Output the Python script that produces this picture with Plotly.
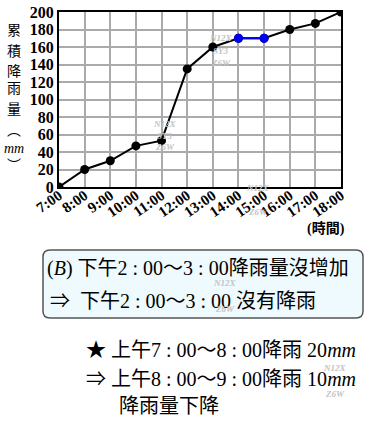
import plotly.graph_objects as go

hours = ["7:00", "8:00", "9:00", "10:00", "11:00", "12:00", "13:00", "14:00",
         "15:00", "16:00", "17:00", "18:00"]
rain = [0, 20, 30, 47, 53, 135, 160, 170, 170, 180, 187, 200]
y_ticks = [0, 20, 40, 60, 80, 100, 120, 140, 160, 180, 200]
y_title_chars = ["累", "積", "降", "雨", "量", "︵", "<i>mm</i>", "︶"]

# plot area in pixels
L, R, T, B = 59, 341, 12, 187
W, H = 365, 427
def px(x):
    return (x - L) / (R - L)
def py(y):
    return (B - y) / (B - T)

xi = list(range(len(hours)))
fig = go.Figure()
fig.add_trace(go.Scatter(x=xi, y=rain, mode="lines+markers",
                         line=dict(color="black", width=2),
                         marker=dict(color="black", size=9), showlegend=False))
fig.add_trace(go.Scatter(x=xi[7:9], y=rain[7:9], mode="lines+markers",
                         line=dict(color="#0000ee", width=2),
                         marker=dict(color="#0000ee", size=9), showlegend=False))

serif = "Liberation Serif, Noto Sans CJK TC"
fig.update_xaxes(range=[0, 11], tickvals=xi, ticktext=hours, tickangle=-35,
                 ticklabelstandoff=-8,
                 showgrid=True, gridcolor="#aaaaaa", gridwidth=1.5,
                 showline=True, linecolor="black", linewidth=2, mirror=True,
                 zeroline=False, ticks="", automargin=False,
                 tickfont=dict(family=serif, size=15, color="black", weight="bold"))
fig.update_yaxes(range=[0, 200], tickvals=y_ticks,
                 showgrid=True, gridcolor="#aaaaaa", gridwidth=1.5,
                 showline=True, linecolor="black", linewidth=2, mirror=True,
                 zeroline=False, ticks="", automargin=False,
                 tickfont=dict(family=serif, size=16, color="black", weight="bold"))

ann = []
ys = [30, 51, 71, 89, 109, 130, 148, 165]
for ch, yy in zip(y_title_chars, ys):
    ann.append(dict(x=px(14), y=py(yy), xref="paper", yref="paper", text=ch,
                    xanchor="center", yanchor="middle",
                    showarrow=False, font=dict(family=serif, size=14, color="black")))
ann.append(dict(x=px(326), y=py(228), xref="paper", yref="paper", text="<b>(時間)</b>",
                xanchor="center", yanchor="middle",
                showarrow=False, font=dict(family=serif, size=14, color="black")))

# text lines
lines = [
    (45, 268, "(<i>B</i>) 下午2 : 00～3 : 00降雨量沒增加"),
    (48, 301, "⇒  下午2 : 00～3 : 00 沒有降雨"),
    (84, 350, "★ 上午7 : 00～8 : 00降雨 20<i>mm</i>"),
    (84, 379, "⇒ 上午8 : 00～9 : 00降雨 10<i>mm</i>"),
    (117, 406, "降雨量下降"),
]
for x0, y0, t in lines:
    ann.append(dict(x=px(x0), y=py(y0), xref="paper", yref="paper", text=t,
                    xanchor="left", yanchor="middle", showarrow=False,
                    font=dict(family=serif, size=20, color="black")))

# faint watermarks
wm = [(165, 124, "N12X"), (165, 136, "SY3"), (165, 147, "Z6W"),
      (221, 38, "N12X"), (221, 51, "SY3"), (221, 63, "Z6W"),
      (258, 188, "N12X"), (258, 212, "Z6W"),
      (225, 283, "N12X"), (225, 309, "Z6W"),
      (335, 368, "N12X"), (335, 394, "Z6W")]
for x0, y0, t in wm:
    ann.append(dict(x=px(x0), y=py(y0), xref="paper", yref="paper", text=t,
                    xanchor="center", yanchor="middle", showarrow=False,
                    font=dict(family="Liberation Serif", size=9, color="#c4c4c4",
                              style="italic", weight="bold")))

# rounded box
x0, x1 = px(43), px(363)
y0, y1 = py(318), py(250)
rx, ry = 7 / (R - L), 7 / (B - T)
path = (f"M {x0+rx},{y1} L {x1-rx},{y1} Q {x1},{y1} {x1},{y1-ry} "
        f"L {x1},{y0+ry} Q {x1},{y0} {x1-rx},{y0} L {x0+rx},{y0} "
        f"Q {x0},{y0} {x0},{y0+ry} L {x0},{y1-ry} Q {x0},{y1} {x0+rx},{y1} Z")
shapes = [dict(type="path", path=path, xref="paper", yref="paper",
               line=dict(color="#555555", width=1.5), fillcolor="#eefafd", layer="below")]

fig.update_layout(width=W, height=H, margin=dict(l=L, r=W - R, t=T, b=H - B, autoexpand=False),
                  plot_bgcolor="white", paper_bgcolor="white",
                  annotations=ann, shapes=shapes)
fig.write_html("out.html", config={"displayModeBar": False},
               post_script="document.body.style.margin='0';")
